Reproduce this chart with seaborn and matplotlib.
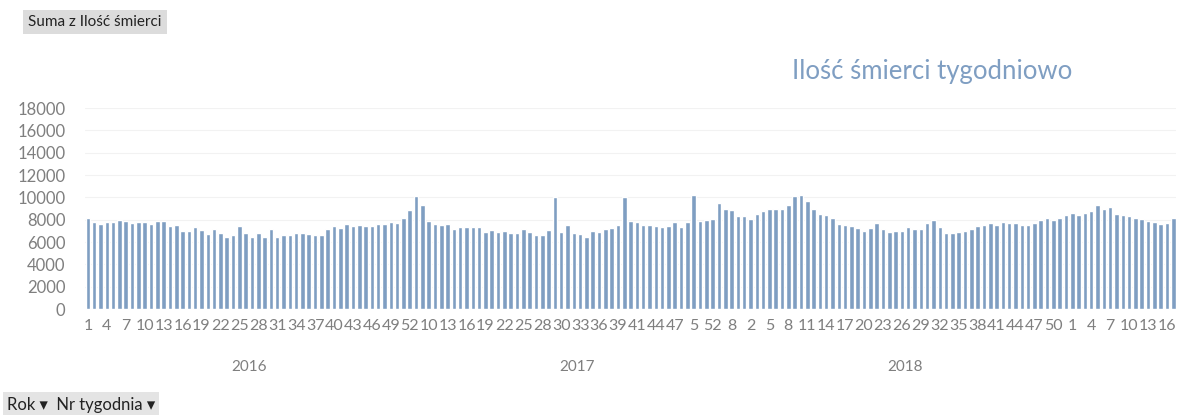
import numpy as np
import pandas as pd
import matplotlib
matplotlib.use("Agg")
import matplotlib.pyplot as plt
import matplotlib.transforms as mtransforms
import seaborn as sns

# Tygodniowa liczba zgonów
years = [2016, 2017, 2018, 2019]
year_captions = ["2016", "2017", "2018", ""]

deaths_2016 = [8135, 7830, 7600, 7800, 7830, 7980, 7890, 7710, 7780, 7750,
               7600, 7890, 7890, 7450, 7540, 7030, 7000, 7330, 7090, 6730,
               7180, 6770, 6490, 6640, 7450, 6770, 6490, 6770, 6490, 7180,
               6490, 6640, 6640, 6830, 6830, 6740, 6640, 6640, 7180, 7400,
               7240, 7600, 7400, 7500, 7450, 7450, 7630, 7600, 7830, 7740,
               8140, 8850]
deaths_2017 = [10080, 9330, 7890, 7600, 7480, 7600, 7180, 7300, 7300, 7330,
               7330, 6920, 7090, 6920, 7000, 6770, 6770, 7180, 6920, 6640,
               6640, 7090, 9990, 6920, 7480, 6770, 6680, 6440, 7000, 6920,
               7130, 7240, 7540, 9990, 7890, 7830, 7540, 7540, 7450, 7300,
               7400, 7780, 7300, 7830, 10230, 7890, 7980, 8100, 9480, 8990,
               8850, 8300]
deaths_2018 = [8300, 8030, 8550, 8760, 8940, 8990, 8990, 9330, 10080, 10230,
               9630, 8990, 8550, 8460, 8140, 7630, 7540, 7400, 7240, 7000,
               7240, 7690, 7130, 6920, 7000, 7000, 7300, 7180, 7180, 7690,
               7980, 7300, 6830, 6770, 6860, 7000, 7180, 7400, 7480, 7690,
               7540, 7750, 7690, 7690, 7540, 7540, 7690, 7980, 8140, 7980,
               8140, 8460]
deaths_2019 = [8640, 8460, 8640, 8760, 9330, 8990, 9140, 8550, 8460, 8340,
               8170, 8030, 7890, 7830, 7600, 7690, 8140]

# etykiety osi X (co trzeci tydzień, tak jak w oryginale)
week_ticks_2016 = ["1", "4", "7", "10", "13", "16", "19", "22", "25", "28",
                   "31", "34", "37", "40", "43", "46", "49", "52"]
week_ticks_2017 = ["10", "13", "16", "19", "22", "25", "28", "30", "33", "36",
                   "39", "41", "44", "47", "5", "52", "8"]
week_ticks_2018 = ["2", "5", "8", "11", "14", "17", "20", "23", "26", "29",
                   "32", "35", "38", "41", "44", "47", "50"]
week_ticks_2019 = ["1", "4", "7", "10", "13", "16"]

series = [deaths_2016, deaths_2017, deaths_2018, deaths_2019]
df = pd.DataFrame({
    "rok": np.concatenate([[y] * len(s) for y, s in zip(years, series)]),
    "ilosc": np.concatenate(series),
})
df["idx"] = np.arange(len(df))
tick_labels = week_ticks_2016 + week_ticks_2017 + week_ticks_2018 + week_ticks_2019

bar_color = "#7f9ec2"
grey = "#7f7f7f"

sns.set_style("white")
plt.rcParams["font.family"] = ["Lato", "DejaVu Sans"]

fig = plt.figure(figsize=(11.77, 4.15), dpi=100)
ax = fig.add_axes([0.072, 0.2554, 0.9275, 0.4843])

sns.barplot(data=df, x="idx", y="ilosc", color=bar_color, width=0.72,
            saturation=1, ax=ax, zorder=2)

ax.set_ylim(0, 18000)
ax.set_xlim(-0.5, len(df) - 0.5)
ax.set_yticks(np.arange(0, 18001, 2000))
ax.set_yticklabels([str(v) for v in range(0, 18001, 2000)], color=grey, fontsize=12)
ax.yaxis.grid(True, color="#f2f2f2", linewidth=0.8, zorder=0)
ax.set_axisbelow(True)

ax.set_xticks(np.arange(0, len(df), 3)[:len(tick_labels)])
ax.set_xticklabels(tick_labels, color=grey, fontsize=11.5)
ax.tick_params(axis="both", length=0, pad=7)
ax.tick_params(axis="y", pad=14)
ax.set_xlabel("")
ax.set_ylabel("")
for s in ax.spines.values():
    s.set_visible(False)

# podpisy lat pod osią
trans = mtransforms.blended_transform_factory(ax.transData, ax.transAxes)
start = 0
for cap, s in zip(year_captions, series):
    center = start + (len(s) - 1) / 2
    ax.text(center, -0.29, cap, transform=trans, ha="center", va="center",
            color=grey, fontsize=11)
    start += len(s)

fig.text(0.792, 0.827, "Ilość śmierci tygodniowo", ha="center", va="center",
         color=bar_color, fontsize=18.5)

# przyciski pola tabeli przestawnej
fig.text(0.024, 0.947, "Suma z Ilość śmierci", ha="left", va="center",
         fontsize=11, color="#222222",
         bbox=dict(boxstyle="square,pad=0.35", facecolor="#dcdcdc", edgecolor="none"))
fig.text(0.006, 0.025, "Rok \u25be  Nr tygodnia \u25be", ha="left", va="center",
         fontsize=12, color="#222222", family=["Lato", "DejaVu Sans"],
         bbox=dict(boxstyle="square,pad=0.25", facecolor="#e4e4e4", edgecolor="none"))

fig.savefig("out.png", dpi=100)
